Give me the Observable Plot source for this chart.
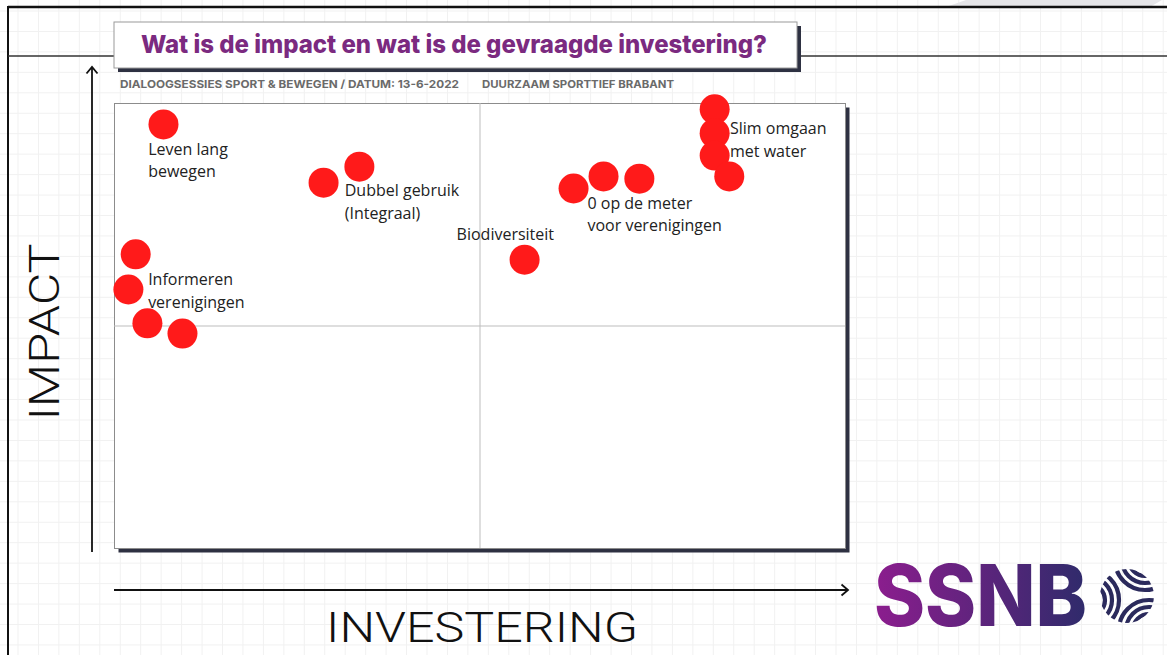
<!DOCTYPE html>
<html><head><meta charset="utf-8">
<script src="https://cdn.jsdelivr.net/npm/d3@7"></script>
<script src="https://cdn.jsdelivr.net/npm/@observablehq/plot@0.6"></script>
<style>
body{margin:0;background:#fff;}
#chart svg{display:block}
</style>
</head><body><div id="chart"></div>
<script>
// Data (investering = x, impact = y, both on a 0–10 scale, quadrant split at 5)
const investering = [0.67, 2.86, 3.35, 0.29, 0.19, 0.45, 0.93, 5.61, 6.28, 6.69, 7.18, 8.21, 8.21, 8.21, 8.41];
const impact      = [9.53, 8.22, 8.58, 6.61, 5.82, 5.06, 4.83, 6.49, 8.09, 8.36, 8.31, 9.87, 9.33, 8.83, 8.36];

const labelText = ["Leven lang\nbewegen", "Dubbel gebruik\n(Integraal)", "Informeren\nverenigingen", "Biodiversiteit", "0 op de meter\nvoor verenigingen", "Slim omgaan\nmet water"];
const labelX    = [0.46, 3.15, 0.46, 4.68, 6.47, 8.42];
const labelY    = [8.75, 7.82, 5.82, 7.10, 7.54, 9.22];

const titleText = "Wat is de impact en wat is de gevraagde investering?";
const subtitleLeft = "DIALOOGSESSIES SPORT & BEWEGEN / DATUM: 13-6-2022";
const subtitleRight = "DUURZAAM SPORTTIEF BRABANT";
const yTitle = "IMPACT";
const xTitle = "INVESTERING";
const logoText = "SSNB";

const points = investering.map((x, i) => ({x, y: impact[i]}));
const labels = labelText.map((t, i) => ({t, x: labelX[i], y: labelY[i]}));

const plot = Plot.plot({
  width: 1167, height: 655,
  marginLeft: 114, marginRight: 322, marginTop: 103, marginBottom: 107,
  x: {domain: [0, 10], axis: null},
  y: {domain: [0, 10], axis: null},
  style: {background: "transparent", fontFamily: "'Open Sans', sans-serif", overflow: "visible"},
  marks: [
    Plot.frame({fill: "#2e3142", dx: 4, dy: 4}),
    Plot.frame({fill: "white", stroke: "#8c8c8c", strokeWidth: 1}),
    Plot.ruleX([5], {stroke: "#bdbdbd", strokeWidth: 1}),
    Plot.ruleY([5], {stroke: "#bdbdbd", strokeWidth: 1}),
    Plot.dot(points, {x: "x", y: "y", r: 15, fill: "#ff1a1a", stroke: "none"}),
    Plot.text(labels, {x: "x", y: "y", text: "t", textAnchor: "start", lineAnchor: "middle",
      fontSize: 16, lineHeight: 1.4, fill: "#222"})
  ]
});
document.getElementById("chart").appendChild(plot);

const svg = d3.select(plot);

// Background decoration (inserted at the very beginning)
const bg = svg.insert("g", ":first-child");
bg.append("rect").attr("x", 0).attr("y", 0).attr("width", 1167).attr("height", 655).attr("fill", "#fff");
for (let x = 18; x < 1167; x += 20.45) bg.append("line").attr("x1", x).attr("x2", x).attr("y1", 0).attr("y2", 655).attr("stroke", "#f1f1f1").attr("stroke-width", 1);
for (let y = 11; y < 655; y += 20.45) bg.append("line").attr("y1", y).attr("y2", y).attr("x1", 0).attr("x2", 1167).attr("stroke", "#f1f1f1").attr("stroke-width", 1);
bg.append("polygon").attr("points", "946,7 966,0 1162,0 1150,7").attr("fill", "#e6e6e9");
bg.append("line").attr("x1", 8).attr("x2", 1167).attr("y1", 7).attr("y2", 7).attr("stroke", "#111").attr("stroke-width", 2.5);
bg.append("line").attr("x1", 8).attr("x2", 8).attr("y1", 6).attr("y2", 655).attr("stroke", "#111").attr("stroke-width", 2);
bg.append("line").attr("x1", 8).attr("x2", 1167).attr("y1", 56).attr("y2", 56).attr("stroke", "#333").attr("stroke-width", 1.5);

// Title box
const fg = svg.append("g").attr("text-anchor", "start");
fg.append("rect").attr("x", 118).attr("y", 26).attr("width", 683).attr("height", 46).attr("fill", "#2e3142");
fg.append("rect").attr("x", 114).attr("y", 22).attr("width", 683).attr("height", 46).attr("fill", "#fff").attr("stroke", "#9a9a9a").attr("stroke-width", 1);
fg.append("text").attr("x", 454).attr("y", 53).attr("text-anchor", "middle")
  .attr("font-family", "Inter, sans-serif").attr("font-weight", 800).attr("font-size", 25)
  .attr("fill", "#7b2a80").attr("textLength", 626).attr("lengthAdjust", "spacingAndGlyphs").text(titleText);

fg.append("text").attr("x", 120).attr("y", 88).attr("text-anchor", "start").attr("font-family", "Inter, sans-serif").attr("font-weight", 700)
  .attr("font-size", 11).attr("fill", "#6a6a6a").attr("textLength", 339).attr("lengthAdjust", "spacingAndGlyphs").text(subtitleLeft);
fg.append("text").attr("x", 482).attr("y", 88).attr("text-anchor", "start").attr("font-family", "Inter, sans-serif").attr("font-weight", 700)
  .attr("font-size", 11).attr("fill", "#6a6a6a").attr("textLength", 192).attr("lengthAdjust", "spacingAndGlyphs").text(subtitleRight);

// Axis arrows
fg.append("line").attr("x1", 92).attr("x2", 92).attr("y1", 552).attr("y2", 67).attr("stroke", "#111").attr("stroke-width", 1.8);
fg.append("polyline").attr("points", "86.5,73.5 92,67 97.5,73.5").attr("fill", "none").attr("stroke", "#111").attr("stroke-width", 1.8);
fg.append("line").attr("x1", 114).attr("x2", 848).attr("y1", 590).attr("y2", 590).attr("stroke", "#111").attr("stroke-width", 1.8);
fg.append("polyline").attr("points", "841.5,584.5 848,590 841.5,595.5").attr("fill", "none").attr("stroke", "#111").attr("stroke-width", 1.8);

// Axis titles
fg.append("text").attr("transform", "translate(59,332) rotate(-90)").attr("text-anchor", "middle")
  .attr("font-family", "Roboto, sans-serif").attr("font-weight", 300).attr("font-size", 43).attr("fill", "#111")
  .attr("textLength", 177).attr("lengthAdjust", "spacingAndGlyphs").text(yTitle);
fg.append("text").attr("x", 482).attr("y", 642).attr("text-anchor", "middle")
  .attr("font-family", "Roboto, sans-serif").attr("font-weight", 300).attr("font-size", 42).attr("fill", "#111")
  .attr("textLength", 312).attr("lengthAdjust", "spacingAndGlyphs").text(xTitle);

// Logo
const defs = svg.append("defs");
const grad = defs.append("linearGradient").attr("id", "logoGrad").attr("x1", "0%").attr("x2", "100%").attr("y1", "0%").attr("y2", "0%");
grad.append("stop").attr("offset", "0%").attr("stop-color", "#8c1d8e");
grad.append("stop").attr("offset", "100%").attr("stop-color", "#2f2b6b");
fg.append("text").attr("x", 874).attr("y", 626).attr("text-anchor", "start").attr("font-family", "Inter, sans-serif").attr("font-weight", 800)
  .attr("font-size", 85).attr("fill", "url(#logoGrad)").attr("textLength", 213).attr("lengthAdjust", "spacingAndGlyphs").text(logoText);

defs.append("clipPath").attr("id", "ballClip").append("circle").attr("cx", 0).attr("cy", 0).attr("r", 27);
const ball = fg.append("g").attr("transform", "translate(1127,596)").attr("clip-path", "url(#ballClip)");
const arcs = [[-38, 4, [16, 23, 30]], [18, -36, [16, 23, 30]], [22, 34, [16, 23, 30]]];
arcs.forEach(([cx, cy, rs]) => rs.forEach(r => ball.append("circle").attr("cx", cx).attr("cy", cy).attr("r", r)
  .attr("fill", "none").attr("stroke", "#2b2a5c").attr("stroke-width", 4.2)));
</script>
</body></html>
